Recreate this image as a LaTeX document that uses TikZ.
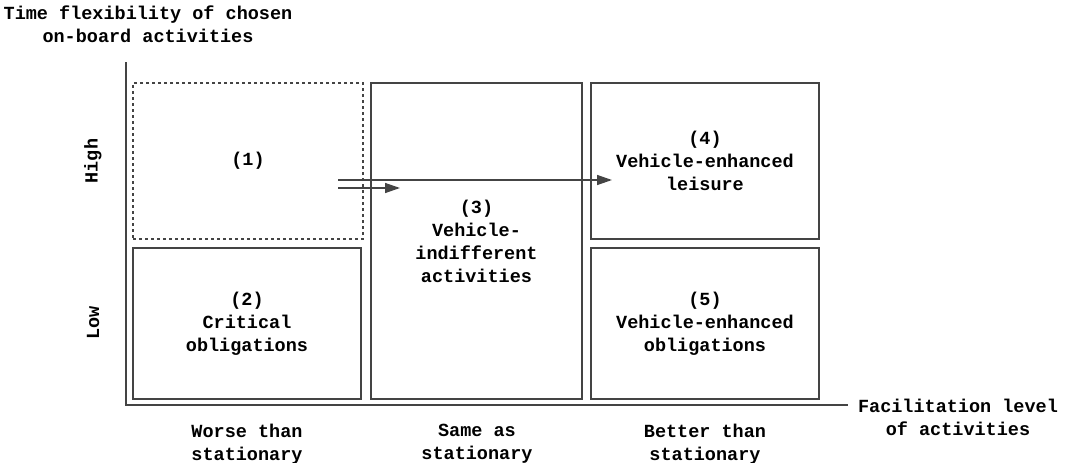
\documentclass[tikz,border=0pt]{standalone}
\usepackage{fontspec}
\setmainfont{Liberation Mono}
\usetikzlibrary{arrows.meta}
\definecolor{linegray}{HTML}{444444}
\tikzset{
  cell/.style={draw=linegray, line width=1.4pt, align=center, inner sep=0pt},
  label/.style={align=center, inner sep=0pt},
  flow/.style={draw=linegray, line width=1.4pt, -{Triangle[length=15pt,width=10pt]}},
}
\begin{document}
\begin{tikzpicture}[x=1pt, y=-1pt, font=\fontsize{18.5}{23}\selectfont\bfseries]
                \useasboundingbox (0,0) rectangle (1069,463);
                % axes
                \coordinate (ytop) at (126,62);
                \coordinate (xend) at (848,405);
                \draw[linegray, line width=1.4pt] (ytop) |- (xend);
                \node[label] (ytitle) at (148,24) {Time flexibility of chosen\\on-board activities};
                \node[label] (xtitle) at (958,417) {Facilitation level\\of activities};
                \node[label, rotate=90] (high) at (93,161) {High};
                \node[label, rotate=90] (low) at (93,323) {Low};
                \node[label] (worse) at (247,444) {Worse than\\stationary};
                \node[label] (same) at (477,444) {Same as\\stationary};
                \node[label] (better) at (705,444) {Better than\\stationary};
                % cells
                \node[cell, dash pattern=on 3pt off 3pt, minimum width=230pt, minimum height=156pt] (C1) at (248,161) {(1)};
                \node[cell, minimum width=228pt, minimum height=151pt] (C2) at (247,323.5) {(2)\\Critical\\obligations};
                \node[cell, minimum width=211pt, minimum height=316pt] (C3) at (476.5,241) {(3)\\Vehicle-\\indifferent\\activities};
                \node[cell, minimum width=228pt, minimum height=156pt] (C4) at (705,161) {(4)\\Vehicle-enhanced\\leisure};
                \node[cell, minimum width=228pt, minimum height=151pt] (C5) at (705,323.5) {(5)\\Vehicle-enhanced\\obligations};
                % shifts
                \coordinate (s1) at (338,180);
                \coordinate (e1) at (612,180);
                \coordinate (s2) at (338,188);
                \coordinate (e2) at (400,188);
                \draw[flow] (s1) -- (e1);
                \draw[flow] (s2) -- (e2);
            \end{tikzpicture}
\end{document}
